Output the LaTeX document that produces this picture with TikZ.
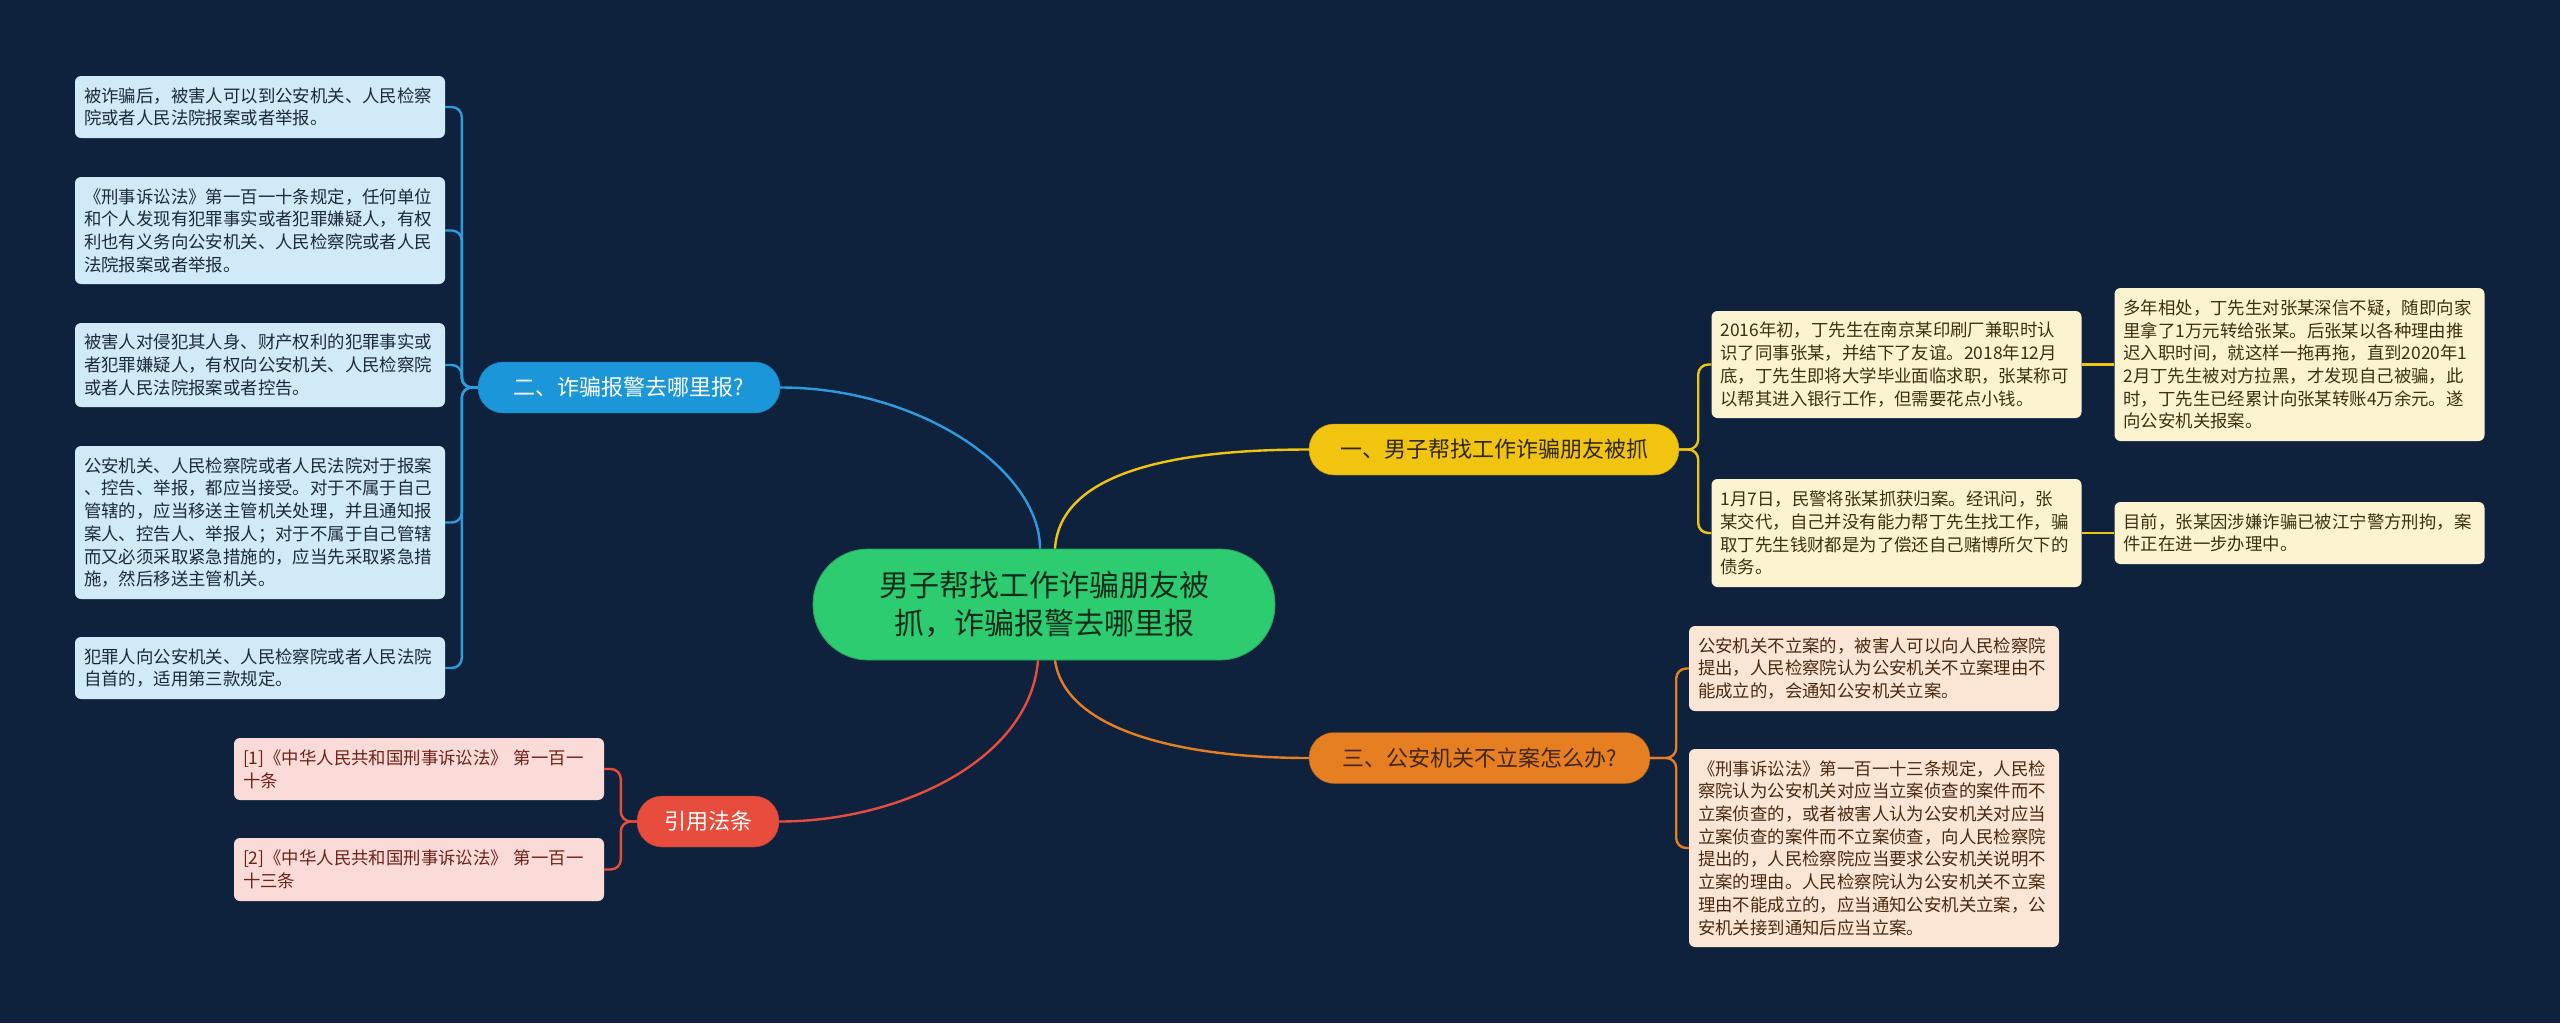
\documentclass[tikz,border=0pt]{standalone}
\usepackage{fontspec}
\setmainfont{Noto Sans CJK SC}
\definecolor{bgc}{RGB}{14,34,62}
\definecolor{cgreen}{RGB}{46,204,113}
\definecolor{ctext}{RGB}{16,45,28}
\definecolor{bblue}{RGB}{27,150,216}
\definecolor{lblue}{RGB}{45,156,222}
\definecolor{fblue}{RGB}{208,234,248}
\definecolor{tblue}{RGB}{28,42,58}
\definecolor{byel}{RGB}{241,196,15}
\definecolor{fyel}{RGB}{252,243,208}
\definecolor{tyel}{RGB}{60,50,18}
\definecolor{bora}{RGB}{230,126,34}
\definecolor{fora}{RGB}{251,230,214}
\definecolor{tora}{RGB}{74,42,16}
\definecolor{bred}{RGB}{231,76,60}
\definecolor{fred}{RGB}{250,219,216}
\definecolor{tred}{RGB}{110,35,25}
\begin{document}
\begin{tikzpicture}[x=1pt,y=-1pt,
  leaf/.style={rounded corners=6pt, inner xsep=9pt, inner ysep=0pt, text width=352pt,
    align=left, minimum width=370pt, font=\fontsize{17.4}{22.7}\selectfont},
  branch/.style={rounded corners=25pt, inner sep=0pt, minimum height=51pt, align=center,
    font=\fontsize{22}{26}\selectfont},
  link/.style={line width=2.4pt, rounded corners=10pt},
  clink/.style={line width=2.4pt}
]
\fill[bgc] (0,0) rectangle (2560,1023);
\useasboundingbox (0,0) rectangle (2560,1023);

% central node
\node[fill=cgreen, draw=cgreen!80!black, line width=0.8pt, rounded corners=55pt, minimum width=462pt, minimum height=111pt,
  inner sep=0pt, align=center, text=ctext, font=\fontsize{30}{38}\selectfont] (c) at (1044,604.5)
  {男子帮找工作诈骗朋友被\\抓，诈骗报警去哪里报};

% branches
\node[branch, fill=bblue, draw=bblue!80!black, text=white, minimum width=302pt] (b2) at (629,387.5) {二、诈骗报警去哪里报?};
\node[branch, fill=byel, draw=byel!75!black, text=tyel!80!black, minimum width=370pt] (b1) at (1494,449.5) {一、男子帮找工作诈骗朋友被抓};
\node[branch, fill=bora, draw=bora!70!black, text=tora!90!black, minimum width=341pt] (b3) at (1479.5,758) {三、公安机关不立案怎么办?};
\node[branch, fill=bred, draw=bred!80!black, text=white, minimum width=142pt] (b4) at (708,821.5) {引用法条};

% blue leaves
\begin{scope}[every node/.style={leaf, fill=fblue, text=tblue}]
\node[minimum height=62pt] (L1) at (260,107) {被诈骗后，被害人可以到公安机关、人民检察\\院或者人民法院报案或者举报。};
\node[minimum height=107pt] (L2) at (260,230.5) {《刑事诉讼法》第一百一十条规定，任何单位\\和个人发现有犯罪事实或者犯罪嫌疑人，有权\\利也有义务向公安机关、人民检察院或者人民\\法院报案或者举报。};
\node[minimum height=84pt] (L3) at (260,365) {被害人对侵犯其人身、财产权利的犯罪事实或\\者犯罪嫌疑人，有权向公安机关、人民检察院\\或者人民法院报案或者控告。};
\node[minimum height=153pt] (L4) at (260,522.5) {公安机关、人民检察院或者人民法院对于报案\\、控告、举报，都应当接受。对于不属于自己\\管辖的，应当移送主管机关处理，并且通知报\\案人、控告人、举报人；对于不属于自己管辖\\而又必须采取紧急措施的，应当先采取紧急措\\施，然后移送主管机关。};
\node[minimum height=62pt] (L5) at (260,668) {犯罪人向公安机关、人民检察院或者人民法院\\自首的，适用第三款规定。};
\end{scope}

% red leaves
\begin{scope}[every node/.style={leaf, fill=fred, text=tred}]
\node[minimum height=62pt] (P1) at (419,769) {[1]《中华人民共和国刑事诉讼法》 第一百一\\十条};
\node[minimum height=63pt] (P2) at (419,869.5) {[2]《中华人民共和国刑事诉讼法》 第一百一\\十三条};
\end{scope}

% yellow leaves
\begin{scope}[every node/.style={leaf, fill=fyel, text=tyel}]
\node[minimum height=107pt] (R1) at (1896.5,364.5) {2016年初，丁先生在南京某印刷厂兼职时认\\识了同事张某，并结下了友谊。2018年12月\\底，丁先生即将大学毕业面临求职，张某称可\\以帮其进入银行工作，但需要花点小钱。};
\node[minimum height=108pt] (R2) at (1896.5,533) {1月7日，民警将张某抓获归案。经讯问，张\\某交代，自己并没有能力帮丁先生找工作，骗\\取丁先生钱财都是为了偿还自己赌博所欠下的\\债务。};
\node[minimum height=153pt] (R1a) at (2299.5,364.5) {多年相处，丁先生对张某深信不疑，随即向家\\里拿了1万元转给张某。后张某以各种理由推\\迟入职时间，就这样一拖再拖，直到2020年1\\2月丁先生被对方拉黑，才发现自己被骗，此\\时，丁先生已经累计向张某转账4万余元。遂\\向公安机关报案。};
\node[minimum height=62pt] (R2a) at (2299.5,533) {目前，张某因涉嫌诈骗已被江宁警方刑拘，案\\件正在进一步办理中。};
\end{scope}

% orange leaves
\begin{scope}[every node/.style={leaf, fill=fora, text=tora}]
\node[minimum height=85pt] (O1) at (1874,668.5) {公安机关不立案的，被害人可以向人民检察院\\提出，人民检察院认为公安机关不立案理由不\\能成立的，会通知公安机关立案。};
\node[minimum height=198pt] (O2) at (1874,848) {《刑事诉讼法》第一百一十三条规定，人民检\\察院认为公安机关对应当立案侦查的案件而不\\立案侦查的，或者被害人认为公安机关对应当\\立案侦查的案件而不立案侦查，向人民检察院\\提出的，人民检察院应当要求公安机关说明不\\立案的理由。人民检察院认为公安机关不立案\\理由不能成立的，应当通知公安机关立案，公\\安机关接到通知后应当立案。};
\end{scope}

% central connectors
\begin{scope}[on background layer/.style={}]
\draw[clink, lblue] ([xshift=-4pt]c.north) .. controls (1040,470) and (920,387.5) .. (b2.east);
\draw[clink, byel] ([xshift=11pt]c.north) .. controls (1060,470) and (1180,449.5) .. (b1.west);
\draw[clink, bred] ([xshift=-6pt]c.south) .. controls (1030,760) and (900,821.5) .. (b4.east);
\draw[clink, bora] ([xshift=11pt]c.south) .. controls (1065,730) and (1180,758) .. (b3.west);
\end{scope}

% branch connectors
\foreach \n in {L1,L2,L3,L4,L5}
  \draw[link, lblue] (b2.west) -- ++(-16,0) |- (\n.east);
\foreach \n in {P1,P2}
  \draw[link, bred] (b4.west) -- ++(-16,0) |- (\n.east);
\foreach \n in {R1,R2}
  \draw[link, byel] (b1.east) -- ++(19,0) |- (\n.west);
\foreach \n in {O1,O2}
  \draw[link, bora] (b3.east) -- ++(26,0) |- (\n.west);
\draw[clink, byel] (R1.east) -- (R1a.west);
\draw[clink, byel] (R2.east) -- (R2a.west);
\end{tikzpicture}
\end{document}
